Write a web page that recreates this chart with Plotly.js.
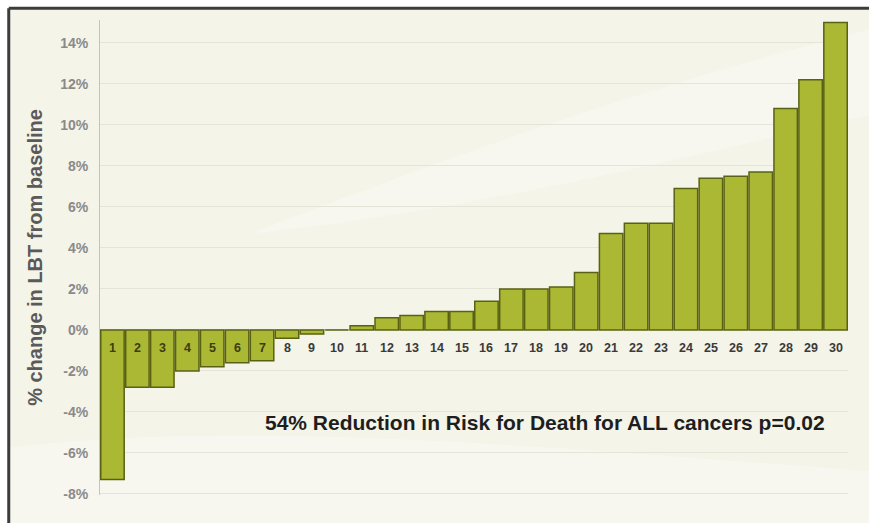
<!DOCTYPE html>
<html>
<head>
<meta charset="utf-8">
<script src="https://cdn.plot.ly/plotly-3.0.1.min.js"></script>
<style>html,body{margin:0;padding:0;background:#fff;}#chart{width:869px;height:523px;}</style>
</head>
<body>
<div id="chart"></div>
<script>
// Data
const categories = ['1','2','3','4','5','6','7','8','9','10','11','12','13','14','15','16','17','18','19','20','21','22','23','24','25','26','27','28','29','30'];
const changePct = [-7.3,-2.8,-2.8,-2.0,-1.8,-1.6,-1.5,-0.4,-0.2,0.0,0.2,0.6,0.7,0.9,0.9,1.4,2.0,2.0,2.1,2.8,4.7,5.2,5.2,6.9,7.4,7.5,7.7,10.8,12.2,15.0];
const yTickVals = [-8,-6,-4,-2,0,2,4,6,8,10,12,14];
const yTickText = ['-8%','-6%','-4%','-2%','0%','2%','4%','6%','8%','10%','12%','14%'];
const noteText = '54% Reduction in Risk for Death for ALL cancers p=0.02';
const yTitle = '% change in LBT from baseline';

const trace = {
  type: 'bar',
  x: categories,
  y: changePct,
  marker: {color: '#abb834', line: {color: '#596114', width: 1.5}},
  hoverinfo: 'x+y'
};

const labelAnns = categories.map((c, i) => ({
  x: i, y: 0, xref: 'x', yref: 'y',
  text: c, showarrow: false, yanchor: 'top', yshift: -9,
  font: {family: 'Liberation Sans, Arial, sans-serif', size: 12.5, color: i < 7 ? '#3b3d12' : '#3a3a3a', weight: 'bold'}
}));

const layout = {
  width: 869, height: 523,
  margin: {l: 100, r: 21, t: 20, b: 28},
  paper_bgcolor: '#ffffff',
  plot_bgcolor: 'rgba(0,0,0,0)',
  bargap: 0.06,
  showlegend: false,
  xaxis: {
    type: 'category', range: [-0.5, categories.length - 0.5], autorange: false,
    showticklabels: false, showgrid: false, zeroline: false,
    showline: false, ticks: ''
  },
  yaxis: {
    range: [-8.05, 15.12], autorange: false, tickvals: yTickVals, ticktext: yTickText,
    showgrid: true, gridcolor: '#e4e4d8', gridwidth: 1,
    zeroline: true, zerolinecolor: '#cfcfc4', zerolinewidth: 1,
    showline: true, linecolor: '#c4c4bc', linewidth: 1,
    ticks: '', ticklen: 0, ticklabelstandoff: 8,
    tickfont: {family: 'Liberation Sans, Arial, sans-serif', size: 14, color: '#8a8a8a', weight: 'bold'},
    title: {text: yTitle, standoff: 12, font: {family: 'Liberation Sans, Arial, sans-serif', size: 20, color: '#5a5a5a', weight: 'bold'}}
  },
  shapes: [
    {type: 'rect', xref: 'paper', yref: 'paper', x0: -0.122, x1: 1.03, y0: -0.06, y1: 1.025, layer: 'below',
     fillcolor: '#f4f4e9', line: {width: 0}},
    {type: 'path', xref: 'paper', yref: 'paper', layer: 'below',
     path: 'M 0.2 0.55 C 0.45 0.7, 0.7 0.85, 1.03 0.98 L 1.03 0.8 C 0.75 0.7, 0.5 0.6, 0.2 0.55 Z',
     fillcolor: 'rgba(255,255,255,0.3)', line: {width: 0}},
    {type: 'path', xref: 'paper', yref: 'paper', layer: 'below',
     path: 'M -0.122 0.1 C 0.2 0.16, 0.6 0.1, 1.03 0.05 L 1.03 -0.06 L -0.122 -0.06 Z',
     fillcolor: 'rgba(255,255,255,0.3)', line: {width: 0}},
    {type: 'line', xref: 'paper', yref: 'paper', x0: -0.122, x1: 1.03, y0: 1.025, y1: 1.025,
     line: {color: '#3c3c3c', width: 3}},
    {type: 'line', xref: 'paper', yref: 'paper', x0: -0.122, x1: -0.122, y0: 1.025, y1: -0.06,
     line: {color: '#3c3c3c', width: 3}}
  ],
  annotations: labelAnns.concat([{
    xref: 'paper', yref: 'y', x: 0.595, y: -4.5, text: noteText, showarrow: false,
    font: {family: 'Liberation Sans, Arial, sans-serif', size: 21, color: '#1e1e1e', weight: 'bold'}
  }])
};

Plotly.newPlot('chart', [trace], layout, {displayModeBar: false, staticPlot: true});
</script>
</body>
</html>
